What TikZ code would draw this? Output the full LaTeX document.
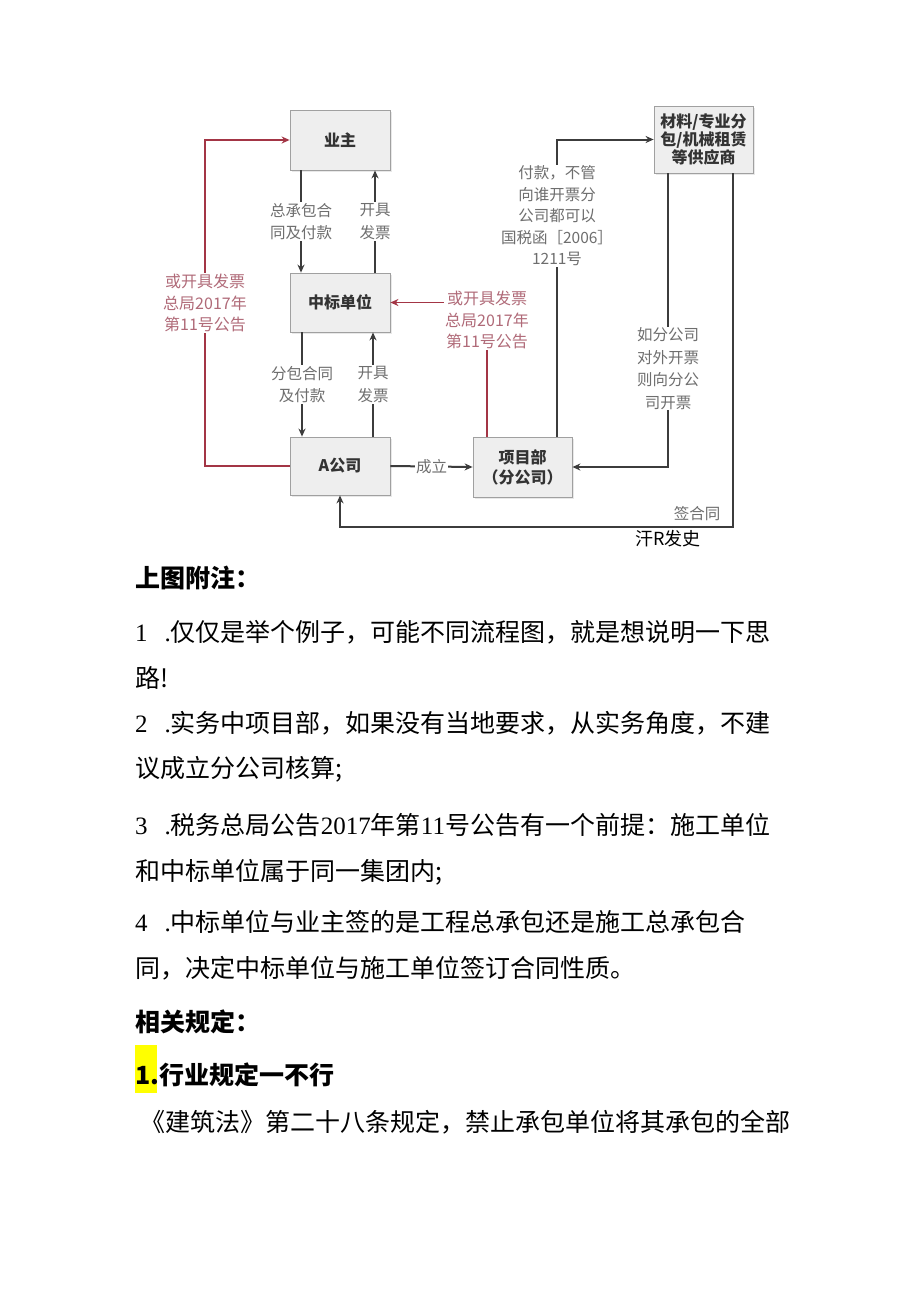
\documentclass[tikz,border=0pt]{standalone}
\usepackage{fontspec}
\setmainfont{Noto Sans CJK SC}
\newfontfamily\songf{Noto Sans CJK SC}
\newfontfamily\digf{Liberation Serif}
\usetikzlibrary{arrows.meta,shadows}
\definecolor{boxfill}{HTML}{EEEEEE}
\definecolor{boxline}{HTML}{A0A0A0}
\definecolor{lnk}{HTML}{3C3C3C}
\definecolor{redl}{HTML}{A33545}
\definecolor{redt}{HTML}{B06A78}
\definecolor{grayt}{HTML}{6E6E6E}
\definecolor{hilite}{HTML}{FFFF00}
\tikzset{
  box/.style={draw=boxline, line width=0.8pt, fill=boxfill, minimum width=100pt, inner sep=0pt,
    align=center, text=black!80, font=\fontsize{16}{18}\selectfont\bfseries,
    drop shadow={shadow xshift=2pt, shadow yshift=-2pt, fill=gray!35}},
  conn/.style={draw=lnk, line width=2pt, -{Stealth[length=8pt,width=7pt]}},
  redconn/.style={draw=redl, line width=1.8pt, -{Stealth[length=8pt,width=7pt]}},
  lbl/.style={fill=white, inner sep=1pt, align=center, text=grayt, font=\songf\fontsize{15.5}{22.5}\selectfont},
  redlbl/.style={fill=white, inner sep=1pt, align=center, text=redt, font=\songf\fontsize{16}{21.5}\selectfont},
  bodytxt/.style={anchor=west, inner sep=0pt, text=black, font=\fontsize{25}{30}\selectfont},
  headtxt/.style={anchor=west, inner sep=0pt, text=black, font=\fontsize{25}{30}\selectfont\bfseries}
}
\newcommand\sgd[1]{{\digf #1}}
\newcommand\itemno[1]{{\digf #1\hspace{17pt}.}}
\begin{document}
\begin{tikzpicture}[x=1pt,y=-1pt]
\useasboundingbox (0,0) rectangle (920,1301);
\fill[white] (0,0) rectangle (920,1301);
% boxes
\node[box, minimum height=60pt] (yz) at (340,140) {业主};
\node[box, minimum height=59pt] (zb) at (340,302.5) {中标单位};
\node[box, minimum height=58pt] (ac) at (340,466) {A公司};
\node[box, minimum width=99pt, minimum height=60pt, font=\fontsize{16}{20}\selectfont\bfseries] (xm) at (522.5,467) {项目部\\（分公司）};
\node[box, minimum width=99pt, minimum height=67pt, font=\fontsize{16}{18}\selectfont\bfseries] (cl) at (703.5,139.5) {材料/专业分\\包/机械租赁\\等供应商};
% vertical connectors
\draw[conn] ([xshift=-39pt]yz.south) -- node[lbl]{总承包合\\同及付款} ([xshift=-39pt]zb.north);
\draw[conn] ([xshift=35pt]zb.north) -- node[lbl]{开具\\发票} ([xshift=35pt]yz.south);
\draw[conn] ([xshift=-38pt]zb.south) -- node[lbl]{分包合同\\及付款} ([xshift=-38pt]ac.north);
\draw[conn] ([xshift=33pt]ac.north) -- node[lbl]{开具\\发票} ([xshift=33pt]zb.south);
\draw[conn] (ac.east) -- node[lbl, font=\songf\fontsize{15.5}{18}\selectfont]{成立} (xm.west);
% red connectors
\coordinate (lc) at (205,466);
\draw[redconn] (ac.west) -- (lc) |- (yz.west);
\node[redlbl] (rl1) at (205,303) {或开具发票\\总局2017年\\第11号公告};
\draw[redconn] ([xshift=-35.5pt]xm.north) |- (zb.east);
\node[redlbl] (rl2) at (487,320) {或开具发票\\总局2017年\\第11号公告};
% right side connectors
\draw[conn] ([xshift=34.5pt]xm.north) |- (cl.west);
\node[lbl, font=\songf\fontsize{15.5}{21.5}\selectfont] (pay) at (557,216) {付款，不管\\向谁开票分\\公司都可以\\国税函［2006］\\1211号};
\draw[conn] ([xshift=-35.5pt]cl.south) |- (xm.east);
\node[lbl] (fgs) at (668,368.5) {如分公司\\对外开票\\则向分公\\司开票};
\coordinate (sg) at (733,527);
\draw[conn] ([xshift=29.5pt]cl.south) -- (sg) -| (ac.south);
\node[lbl, fill=none] (sht) at (697,514) {签合同};
\node[inner sep=0pt, text=black, font=\fontsize{18}{20}\selectfont] (hf) at (668,539) {汗R发史};
% notes
\node[headtxt] (h1) at (135,578) {上图附注：};
\node[bodytxt] (t1) at (135,632) {\itemno{1}仅仅是举个例子，可能不同流程图，就是想说明一下思};
\node[bodytxt] (t1b) at (135,678) {路!};
\node[bodytxt] (t2) at (135,723) {\itemno{2}实务中项目部，如果没有当地要求，从实务角度，不建};
\node[bodytxt] (t2b) at (135,769) {议成立分公司核算;};
\node[bodytxt] (t3) at (135,825) {\itemno{3}税务总局公告\sgd{2017}年第\sgd{11}号公告有一个前提：施工单位};
\node[bodytxt] (t3b) at (135,872) {和中标单位属于同一集团内;};
\node[bodytxt] (t4) at (135,922) {\itemno{4}中标单位与业主签的是工程总承包还是施工总承包合};
\node[bodytxt] (t4b) at (135,968) {同，决定中标单位与施工单位签订合同性质。};
\node[headtxt] (h2) at (135,1022) {相关规定：};
\fill[hilite] (135,1045) rectangle (157,1093);
\node[headtxt] (h3) at (135,1075) {1.行业规定一不行};
\node[bodytxt] (t5) at (140,1122) {《建筑法》第二十八条规定，禁止承包单位将其承包的全部};
\end{tikzpicture}
\end{document}
